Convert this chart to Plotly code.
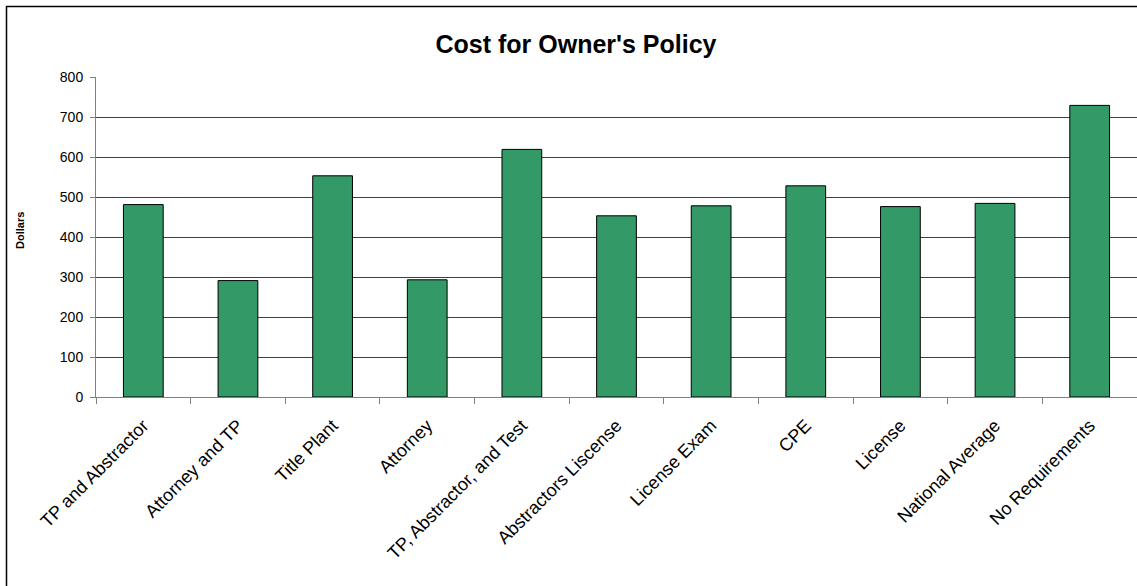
import plotly.graph_objects as go

categories = ["TP and Abstractor", "Attorney and TP", "Title Plant", "Attorney",
              "TP, Abstractor, and Test", "Abstractors Liscense", "License Exam",
              "CPE", "License", "National Average", "No Requirements"]
costs = [481, 291, 553, 293, 619, 453, 478, 528, 476, 484, 729]
y_ticks = [0, 100, 200, 300, 400, 500, 600, 700, 800]

W, H = 1137, 586
L, R, T, B = 96, 0, 77, 189
pw, ph = W - L - R, H - T - B

def px(x):
    return (x - L) / pw

def py(y):
    return (H - B - y) / ph

fig = go.Figure(go.Bar(
    x=categories, y=costs,
    marker=dict(color="#339966", line=dict(color="#000000", width=1)),
    width=0.42,
))

fig.update_layout(
    width=W, height=H,
    margin=dict(l=L, r=R, t=T, b=B, autoexpand=False),
    paper_bgcolor="white", plot_bgcolor="white",
    font=dict(family="Liberation Sans, Arial, sans-serif", color="#000000"),
    showlegend=False,
    title=dict(text="<b>Cost for Owner's Policy</b>", font=dict(size=25, color="#000000"),
               x=576 / W, xref="container", xanchor="center",
               y=1 - 44 / H, yref="container", yanchor="middle"),
    xaxis=dict(type="category", range=[-0.5, 10.5], showgrid=False,
               showline=True, linecolor="#808080", linewidth=1,
               ticks="outside", tickson="boundaries", ticklen=6, tickcolor="#808080",
               ticklabelstandoff=10,
               tickangle=-45, tickfont=dict(size=18, color="#000000")),
    yaxis=dict(range=[0, 800], tickvals=y_ticks, showgrid=True,
               gridcolor="#404040", gridwidth=1,
               showline=True, linecolor="#808080", linewidth=1,
               ticks="outside", ticklen=5, tickcolor="#808080",
               ticklabelstandoff=4,
               tickfont=dict(size=14, color="#000000"), zeroline=False),
    annotations=[dict(text="<b>Dollars</b>", textangle=-90, showarrow=False,
                      xref="paper", yref="paper", x=px(20), y=py(231),
                      xanchor="center", yanchor="middle",
                      font=dict(size=11, color="#000000"))],
    shapes=[dict(type="rect", xref="paper", yref="paper",
                 x0=px(6.5), x1=px(W + 10), y0=py(6.5), y1=py(H + 10),
                 line=dict(color="#000000", width=1.5), layer="above")],
)

fig.write_html("out.html")
